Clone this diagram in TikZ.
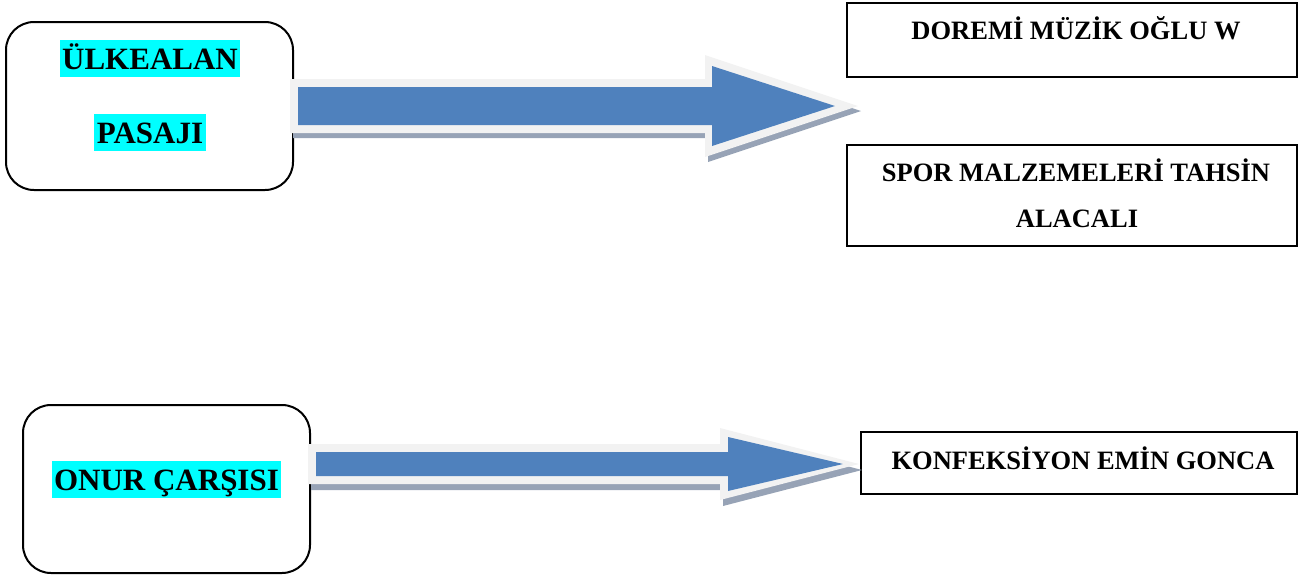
\documentclass[tikz,border=0pt]{standalone}
\usepackage{fontspec}
\setmainfont{Liberation Serif}
\definecolor{arrowblue}{HTML}{4F81BD}
\definecolor{arrowrim}{HTML}{F2F2F2}
\definecolor{arrowshadow}{HTML}{97A3B6}
\definecolor{hilite}{HTML}{00FFFF}
\tikzset{
  roundbox/.style={draw=black, line width=2pt, rounded corners=28pt, minimum width=287pt, minimum height=168pt, inner sep=0pt},
  plainbox/.style={draw=black, line width=1.9pt, inner sep=0pt},
  bigtext/.style={fill=hilite, inner xsep=2.5pt, inner ysep=0pt, text height=29pt, text depth=8pt, anchor=base, font=\fontsize{31}{37}\selectfont\bfseries},
  smalltext/.style={inner sep=0pt, anchor=base, font=\fontsize{26.5}{32}\selectfont\bfseries},
  rim/.style={fill=arrowrim},
  shade/.style={fill=arrowshadow},
  body/.style={fill=arrowblue}
}
\begin{document}
\begin{tikzpicture}[x=1pt,y=-1pt]
\useasboundingbox (0,0) rectangle (1299,576);
% boxes
\node[roundbox] (ulke) at (149.5,106) {};
\node[roundbox] (onur) at (166.5,489) {};
\node[plainbox, minimum width=450pt, minimum height=74pt] (doremi) at (1072,40) {};
\node[plainbox, minimum width=450pt, minimum height=101pt] (spor) at (1072,195.5) {};
\node[plainbox, minimum width=436pt, minimum height=62pt] (konf) at (1079,463) {};
% top arrow
\begin{scope}[shift={(3,5)}]
\fill[shade] (290,79) -- (705,79) -- (705,55) -- (858,106) -- (705,157) -- (705,133) -- (290,133) -- cycle;
\end{scope}
\fill[rim] (290,79) -- (705,79) -- (705,55) -- (858,106) -- (705,157) -- (705,133) -- (290,133) -- cycle;
\fill[body] (298,87) -- (712,87) -- (712,66) -- (835,106) -- (712,146) -- (712,125) -- (298,125) -- cycle;
% bottom arrow
\begin{scope}[shift={(3,6)}]
\fill[shade] (308,444) -- (720,444) -- (720,428) -- (859,464) -- (720,500) -- (720,484) -- (308,484) -- cycle;
\end{scope}
\fill[rim] (308,444) -- (720,444) -- (720,428) -- (859,464) -- (720,500) -- (720,484) -- (308,484) -- cycle;
\fill[body] (316,452) -- (728,452) -- (728,437) -- (843,464) -- (728,491) -- (728,476) -- (316,476) -- cycle;
% texts
\node[bigtext] (t1) at (150,69) {ÜLKEALAN};
\node[bigtext] (t2) at (150,143) {PASAJI};
\node[bigtext, text depth=8pt] (t3) at (166.5,490) {ONUR ÇARŞISI};
\node[smalltext] (t4) at (1076,39) {DOREMİ MÜZİK OĞLU W};
\node[smalltext] (t5) at (1076,181) {SPOR MALZEMELERİ TAHSİN};
\node[smalltext] (t6) at (1077,227) {ALACALI};
\node[smalltext] (t7) at (1083,469) {KONFEKSİYON EMİN GONCA};
\end{tikzpicture}
\end{document}
